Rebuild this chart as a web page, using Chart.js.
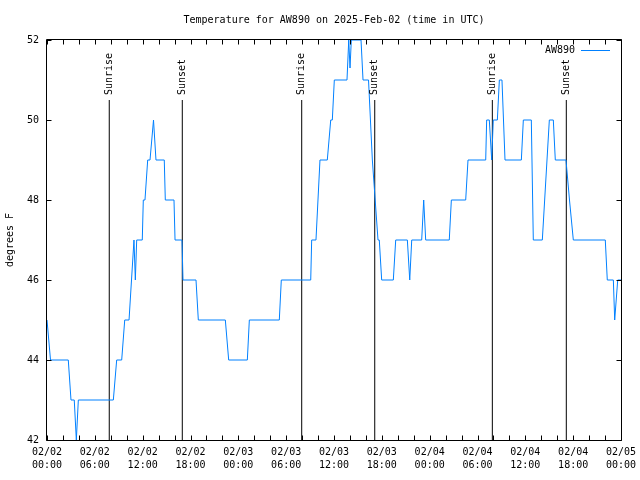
<!DOCTYPE html>
<html><head><meta charset="utf-8">
<script src="https://cdn.jsdelivr.net/npm/chart.js@4/dist/chart.umd.min.js"></script>
<style>html,body{margin:0;padding:0;background:#fff;}</style>
</head><body>
<canvas id="c" width="640" height="480"></canvas>
<script>
// ---- data ----
const titleText = 'Temperature for AW890 on 2025-Feb-02 (time in UTC)';
const seriesName = 'AW890';
const yAxisTitle = 'degrees F';

// hours since 02/02 00:00 UTC
const hours = [0, 0.44, 2.67, 3.01, 3.42, 3.68, 3.93, 8.32, 8.74, 9.37, 9.75, 10.29, 10.91, 11.08, 11.25,
  11.95, 12.08, 12.29, 12.63, 12.92, 13.36, 13.67, 14.71, 14.84, 15.93, 16.06, 16.93, 17.06, 18.69, 18.98,
  22.37, 22.79, 25.13, 25.38, 29.14, 29.39, 33.08, 33.20, 33.74, 34.24, 35.16, 35.59, 35.79, 36.04, 37.63,
  37.85, 38.01, 38.17, 39.39, 39.64, 40.33, 40.81, 40.89, 41.52, 41.68, 41.98, 43.44, 43.74, 45.20, 45.50,
  45.75, 47.00, 47.25, 47.50, 50.46, 50.72, 52.52, 52.81, 55.03, 55.15, 55.48, 55.78, 55.98, 56.49, 56.74,
  57.07, 57.45, 59.50, 59.75, 60.75, 61.00, 62.13, 63.01, 63.51, 63.76, 65.10, 65.54, 66.02, 70.03, 70.28,
  71.04, 71.21, 71.59, 72.00];
const temps = [45, 44, 44, 43, 43, 42, 43, 43, 44, 44, 45, 45, 47, 46, 47,
  47, 48, 48, 49, 49, 50, 49, 49, 48, 48, 47, 47, 46, 46, 45,
  45, 44, 44, 45, 45, 46, 46, 47, 47, 49, 49, 50, 50, 51, 51,
  52, 51.3, 52, 52, 51, 51, 49, 49, 47, 47, 46, 46, 47, 47, 46,
  47, 47, 48, 47, 47, 48, 48, 49, 49, 50, 50, 49, 50, 50, 51,
  51, 49, 49, 50, 50, 47, 47, 50, 50, 49, 49, 48, 47, 47, 46,
  46, 45, 46, 46];

const tickHours = [0, 6, 12, 18, 24, 30, 36, 42, 48, 54, 60, 66, 72];
const tickDates = ['02/02','02/02','02/02','02/02','02/03','02/03','02/03','02/03','02/04','02/04','02/04','02/04','02/05'];
const tickTimes = ['00:00','06:00','12:00','18:00','00:00','06:00','12:00','18:00','00:00','06:00','12:00','18:00','00:00'];

const sunHours = [7.81, 16.97, 31.95, 41.11, 55.86, 65.14];
const sunLabels = ['Sunrise', 'Sunset', 'Sunrise', 'Sunset', 'Sunrise', 'Sunset'];
const sunLineTop = 50.5;

const FONT = '"DejaVu Sans Mono", monospace';
const LINE_COLOR = 'rgb(0,128,255)';

const datasets = [{
  label: seriesName,
  data: hours.map((h, i) => ({x: h, y: temps[i]})),
  borderColor: LINE_COLOR, borderWidth: 1, pointRadius: 0, tension: 0, fill: false
}];
sunHours.forEach((h, i) => datasets.push({
  label: sunLabels[i],
  data: [{x: h, y: 42}, {x: h, y: sunLineTop}],
  borderColor: '#000', borderWidth: 1, pointRadius: 0, fill: false
}));

const decor = {
  id: 'decor',
  afterDatasetsDraw(chart) {
    const {ctx, chartArea: a, scales: {x, y}} = chart;
    ctx.save();
    ctx.strokeStyle = '#000'; ctx.lineWidth = 1;
    const L = Math.round(a.left) - 0.5, R = Math.round(a.right) + 0.5;
    const T = Math.round(a.top) - 0.5, B = Math.round(a.bottom) + 0.5;
    ctx.beginPath();
    ctx.rect(L, T, R - L, B - T);
    x.ticks.forEach(t => {
      const px = Math.round(x.getPixelForValue(t.value)) + 0.5;
      ctx.moveTo(px, B); ctx.lineTo(px, B - 5);
      ctx.moveTo(px, T); ctx.lineTo(px, T + 5);
    });
    y.ticks.forEach(t => {
      const py = Math.round(y.getPixelForValue(t.value)) + 0.5;
      ctx.moveTo(L, py); ctx.lineTo(L + 5, py);
      ctx.moveTo(R, py); ctx.lineTo(R - 5, py);
    });
    ctx.stroke();
    ctx.fillStyle = '#000';
    ctx.font = '10px ' + FONT;
    ctx.textAlign = 'left'; ctx.textBaseline = 'middle';
    sunHours.forEach((h, i) => {
      const px = x.getPixelForValue(h);
      const py = y.getPixelForValue(sunLineTop) - 5;
      ctx.save();
      ctx.translate(px, py);
      ctx.rotate(-Math.PI / 2);
      ctx.fillText(sunLabels[i], 0, 0);
      ctx.restore();
    });
    ctx.textAlign = 'right';
    ctx.fillText(seriesName, 575, 50);
    ctx.strokeStyle = LINE_COLOR;
    ctx.beginPath(); ctx.moveTo(581, 50.5); ctx.lineTo(610, 50.5); ctx.stroke();
    ctx.restore();
  }
};

new Chart(document.getElementById('c'), {
  type: 'line',
  data: {datasets},
  plugins: [decor],
  options: {
    responsive: false, animation: false, devicePixelRatio: 1,
    layout: {padding: {left: 0, right: 19, top: 0, bottom: 0}},
    plugins: {
      legend: {display: false}, tooltip: {enabled: false},
      title: {display: true, text: titleText, fullSize: false, color: '#000',
        font: {family: FONT, size: 10, weight: 'normal', lineHeight: 1.2},
        padding: {top: 14, bottom: 14}}
    },
    scales: {
      x: {
        type: 'linear', min: 0, max: 72,
        grid: {display: false, drawTicks: false}, border: {display: false},
        afterFit: s => { s.height = 40; s.paddingLeft = 0; s.paddingRight = 0; },
        ticks: {
          stepSize: 2, autoSkip: false, maxRotation: 0, minRotation: 0, padding: 6, color: '#000',
          font: {family: FONT, size: 10, lineHeight: 1.3},
          callback: v => { const i = tickHours.indexOf(v); return i >= 0 ? [tickDates[i], tickTimes[i]] : ''; }
        }
      },
      y: {
        min: 42, max: 52,
        grid: {display: false, drawTicks: false}, border: {display: false},
        afterFit: s => { s.width = 47; s.paddingTop = 0; s.paddingBottom = 0; },
        title: {display: true, text: yAxisTitle, color: '#000', padding: {top: 4, bottom: 0},
          font: {family: FONT, size: 10, lineHeight: 1.2}},
        ticks: {stepSize: 2, padding: 8, color: '#000', font: {family: FONT, size: 10}}
      }
    }
  }
});
</script>
</body></html>
